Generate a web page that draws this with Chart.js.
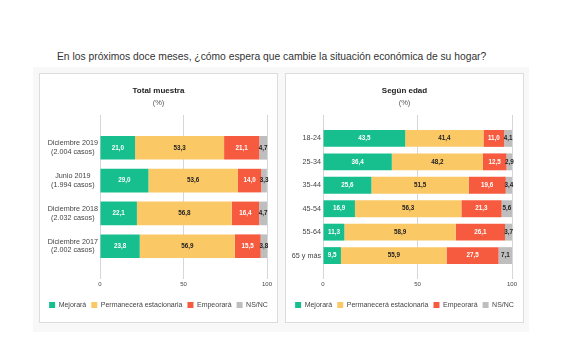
<!DOCTYPE html>
<html>
<head>
<meta charset="utf-8">
<script src="https://cdn.jsdelivr.net/npm/chart.js@4.4.1/dist/chart.umd.min.js"></script>
<style>
  body { margin: 0; width: 580px; height: 358px; background: #fff; position: relative; overflow: hidden; font-family: "Liberation Sans", Arial, sans-serif; }
  #heading { position: absolute; left: 57px; top: 50px; font-size: 10.3px; line-height: 13px; color: #333; white-space: nowrap; }
  #back { position: absolute; left: 33px; top: 67px; width: 496px; height: 265px; background: #f8f8f8; }
  .panel { position: absolute; top: 73px; width: 239px; height: 250px; box-sizing: border-box; border: 1px solid #dcdcdc; background: #fff; }
  #p1 { left: 39px; }
  #p2 { left: 285px; }
  canvas { display: block; }
</style>
</head>
<body>
<div id="heading">En los próximos doce meses, ¿cómo espera que cambie la situación económica de su hogar?</div>
<div id="back"></div>
<div class="panel" id="p1"><canvas id="chart1" width="237" height="248"></canvas></div>
<div class="panel" id="p2"><canvas id="chart2" width="237" height="248"></canvas></div>
<script>
var seriesNames = ['Mejorará', 'Permanecerá estacionaria', 'Empeorará', 'NS/NC'];
var seriesColors = ['#17bf8e', '#fbc866', '#f65b3f', '#bebebe'];
var labelColors = ['#fff', '#222', '#fff', '#222'];

// Total muestra
var totalLabels = [['Diciembre 2019', '(2.004 casos)'], ['Junio 2019', '(1.994 casos)'], ['Diciembre 2018', '(2.032 casos)'], ['Diciembre 2017', '(2.002 casos)']];
var totalMejorara = [21.0, 29.0, 22.1, 23.8];
var totalPermanecera = [53.3, 53.6, 56.8, 56.9];
var totalEmpeorara = [21.1, 14.0, 16.4, 15.5];
var totalNsnc = [4.7, 3.3, 4.7, 3.8];

// Según edad
var edadLabels = ['18-24', '25-34', '35-44', '45-54', '55-64', '65 y más'];
var edadMejorara = [43.5, 36.4, 25.6, 16.9, 11.3, 9.5];
var edadPermanecera = [41.4, 48.2, 51.5, 56.3, 58.9, 55.9];
var edadEmpeorara = [11.0, 12.5, 19.6, 21.3, 26.1, 27.5];
var edadNsnc = [4.1, 2.9, 3.4, 5.6, 3.7, 7.1];

var xTicks = [0, 50, 100];

// empty slot above and below the bars
function pad(arr, fill) {
	return [fill].concat(arr).concat([fill]);
}

var barLabels = {
	id: 'barLabels',
	afterDatasetsDraw: function(chart) {
		var ctx = chart.ctx;
		ctx.save();
		ctx.font = 'bold 6.3px "Liberation Sans", Arial, sans-serif';
		ctx.textAlign = 'center';
		ctx.textBaseline = 'middle';
		chart.data.datasets.forEach(function(ds, i) {
			var meta = chart.getDatasetMeta(i);
			meta.data.forEach(function(bar, j) {
				var v = ds.data[j];
				if (v === null || v === undefined) return;
				ctx.fillStyle = labelColors[i];
				ctx.fillText(v.toFixed(1).replace('.', ','), (bar.x + bar.base) / 2, bar.y);
			});
		});
		ctx.restore();
	}
};

function makeChart(id, title, labels, series, axisWidth, rightGap, align) {
	var datasets = [];
	for (var i = 0; i < series.length; i++) {
		datasets.push({
			label: seriesNames[i],
			data: pad(series[i], null),
			backgroundColor: seriesColors[i],
			borderWidth: 0
		});
	}
	return new Chart(document.getElementById(id), {
		type: 'bar',
		data: { labels: pad(labels, ''), datasets: datasets },
		plugins: [barLabels],
		options: {
			indexAxis: 'y',
			responsive: false,
			animation: false,
			layout: { padding: { top: 7, left: 0, right: 0, bottom: 3.5 } },
			scales: {
				x: {
					stacked: true,
					min: 0,
					max: 100,
					afterBuildTicks: function(scale) {
						scale.ticks = xTicks.map(function(v) { return { value: v }; });
					},
					afterFit: function(scale) { scale.height += 6.3; },
					grid: { color: '#d6d6d6', drawTicks: false },
					border: { display: false },
					ticks: { padding: 2, color: '#444', font: { size: 6 } }
				},
				y: {
					stacked: true,
					offset: false,
					afterFit: function(scale) { scale.width = axisWidth; },
					grid: { display: false, drawTicks: false },
					border: { display: false },
					ticks: { padding: 2, crossAlign: align, color: '#444', font: { size: 7.2 }, autoSkip: false }
				},
				// keeps a gap on the right of the plot
				gap: {
					type: 'linear',
					axis: 'y',
					position: 'right',
					display: true,
					afterFit: function(scale) { scale.width = rightGap; },
					grid: { display: false, drawTicks: false },
					border: { display: false },
					ticks: { display: false }
				}
			},
			plugins: {
				title: { display: true, text: title, color: '#222', font: { size: 8, weight: 'bold' }, padding: { top: 5, bottom: 0 } },
				subtitle: { display: true, text: '(%)', color: '#555', font: { size: 7.5 }, padding: { top: 3, bottom: 7.4 } },
				legend: {
					position: 'bottom',
					labels: { boxWidth: 6, boxHeight: 6, padding: 5, color: '#444', font: { size: 7 } }
				},
				tooltip: { enabled: false }
			}
		}
	});
}

Chart.defaults.font.family = '"Liberation Sans", Arial, sans-serif';

makeChart('chart1', 'Total muestra', totalLabels,
	[totalMejorara, totalPermanecera, totalEmpeorara, totalNsnc], 60, 10, 'center');
makeChart('chart2', 'Según edad', edadLabels,
	[edadMejorara, edadPermanecera, edadEmpeorara, edadNsnc], 37, 11, 'near');
</script>
</body>
</html>
